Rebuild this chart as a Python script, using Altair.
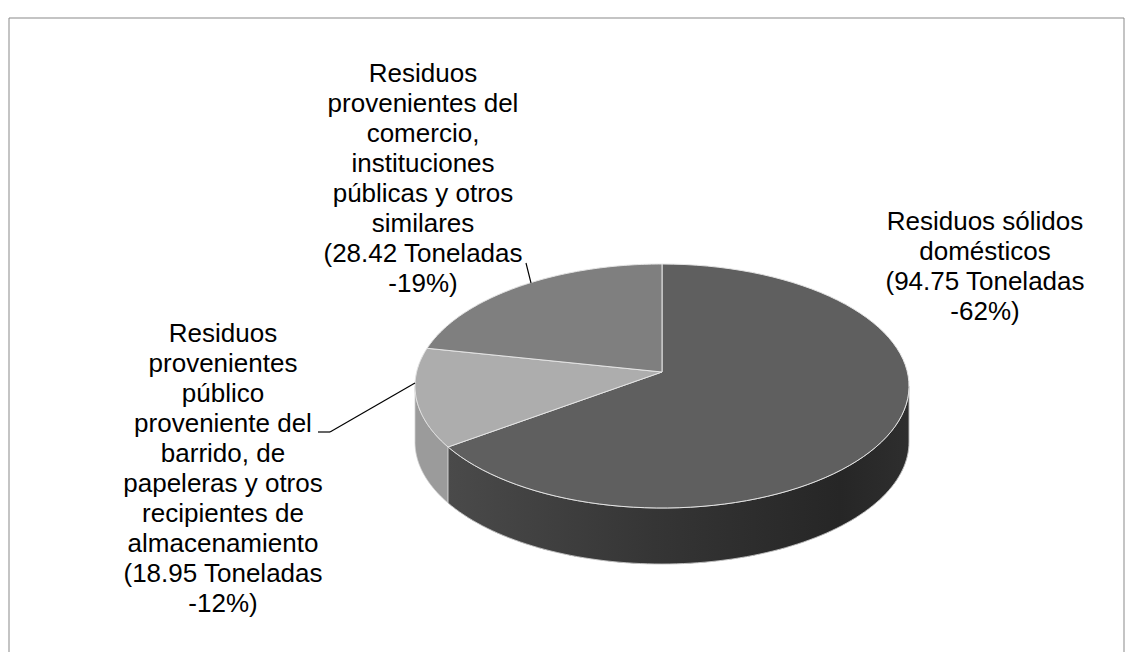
import altair as alt
import pandas as pd

# ---------------- data ----------------
categorias = [
    "Residuos sólidos domésticos",
    "Residuos provenientes público proveniente del barrido, de papeleras y otros recipientes de almacenamiento",
    "Residuos provenientes del comercio, instituciones públicas y otros similares",
]
toneladas = [94.75, 18.95, 28.42]
porcentajes = [62, 12, 19]
lineas_nombre = [
    ["Residuos sólidos", "domésticos"],
    ["Residuos", "provenientes", "público", "proveniente del", "barrido, de",
     "papeleras y otros", "recipientes de", "almacenamiento"],
    ["Residuos", "provenientes del", "comercio,", "instituciones",
     "públicas y otros", "similares"],
]
colores_cara = ["#5f5f5f", "#adadad", "#7f7f7f"]
colores_lado = ["#363636", "#9b9b9b", "#6a6a6a"]

# ---------------- layout ----------------
W, H = 1118, 644
CX, CY, RX, RY = 654, 378, 247, 122   # ellipse of the pie top
APEX_DY = -14                          # perspective shift of the pie centre
DEPTH = 56                             # thickness of the pie
N = 90                                 # arc resolution
label_x = [977, 215, 415]
label_y = [214, 326, 66]               # centre of the first line of each label
FONT = "Liberation Sans"

df = pd.DataFrame({"categoria": categorias, "toneladas": toneladas,
                   "orden": list(range(len(categorias)))})

base = (
    alt.Chart(df)
    .transform_joinaggregate(total="sum(toneladas)")
    .transform_window(acum="sum(toneladas)", sort=[alt.SortField("orden")],
                      frame=[None, 0])
    .transform_calculate(a0="2*PI*(datum.acum - datum.toneladas)/datum.total")
    .transform_calculate(a1="2*PI*datum.acum/datum.total")
)

pos = dict(
    x=alt.X("px:Q", scale=None, axis=None),
    y=alt.Y("py:Q", scale=None, axis=None),
    detail=alt.Detail("categoria:N"),
    order=alt.Order("idx:Q"),
)

# top faces (elliptical wedges)
top = (
    base.transform_calculate(idx=f"sequence(-1, {N + 1})")
    .transform_flatten(["idx"])
    .transform_calculate(t=f"datum.a0 + (datum.a1 - datum.a0) * max(datum.idx, 0) / {N}")
    .transform_calculate(px=f"datum.idx < 0 ? {CX} : {CX} + {RX} * sin(datum.t)")
    .transform_calculate(py=f"datum.idx < 0 ? {CY + APEX_DY} : {CY} - {RY} * cos(datum.t)")
    .mark_line(interpolate="linear-closed", stroke="#e4e4e4", strokeWidth=1,
               strokeJoin="round")
    .encode(fill=alt.Fill("categoria:N",
                          scale=alt.Scale(domain=categorias, range=colores_cara),
                          legend=None), **pos)
)

# visible front side of the pie
side_base = (
    base.transform_calculate(s0="max(datum.a0, PI/2)")
    .transform_calculate(s1="min(datum.a1, 3*PI/2)")
    .transform_filter("datum.s1 > datum.s0")
    .transform_calculate(idx=f"sequence(0, {2 * N + 2})")
    .transform_flatten(["idx"])
    .transform_calculate(j=f"datum.idx <= {N} ? datum.idx : {2 * N + 1} - datum.idx")
    .transform_calculate(t=f"datum.s0 + (datum.s1 - datum.s0) * datum.j / {N}")
    .transform_calculate(px=f"{CX} + {RX} * sin(datum.t)")
    .transform_calculate(py=f"{CY} - {RY} * cos(datum.t) + (datum.idx > {N} ? {DEPTH} : 0)")
)
side = side_base.mark_line(interpolate="linear-closed", stroke="#d0d0d0",
                           strokeWidth=0.8).encode(
    fill=alt.Fill("categoria:N",
                  scale=alt.Scale(domain=categorias, range=colores_lado),
                  legend=None), **pos)

side_grad = side_base.transform_filter("datum.orden == 0").mark_line(
    interpolate="linear-closed", stroke="#d0d0d0", strokeWidth=0.8,
    fill=alt.LinearGradient(
        gradient="linear", x1=0, x2=1, y1=0, y2=0,
        stops=[alt.GradientStop(color="#4a4a4a", offset=0),
               alt.GradientStop(color="#353535", offset=0.45),
               alt.GradientStop(color="#262626", offset=0.85),
               alt.GradientStop(color="#2e2e2e", offset=1)])
).encode(**pos)

# frame
one = alt.Data(values=[{}])
frame = alt.layer(
    alt.Chart(one).mark_rule(color="#898989", strokeWidth=1).encode(
        x=alt.value(1), y=alt.value(10), y2=alt.value(H)),
    alt.Chart(one).mark_rule(color="#898989", strokeWidth=1).encode(
        x=alt.value(1), x2=alt.value(1116), y=alt.value(10)),
    alt.Chart(one).mark_rule(color="#898989", strokeWidth=1).encode(
        x=alt.value(1116), y=alt.value(10), y2=alt.value(H)),
)

# leader lines
leaders = alt.layer(
    alt.Chart(one).mark_rule(color="black", strokeWidth=1.2).encode(
        x=alt.value(518), y=alt.value(255), x2=alt.value(523), y2=alt.value(275)),
    alt.Chart(one).mark_rule(color="black", strokeWidth=1.2).encode(
        x=alt.value(310), y=alt.value(424), x2=alt.value(322), y2=alt.value(424)),
    alt.Chart(one).mark_rule(color="black", strokeWidth=1.2).encode(
        x=alt.value(322), y=alt.value(424), x2=alt.value(407), y2=alt.value(375)),
)

# labels
textos = [
    "\n".join(lns + [f"({v:.2f} Toneladas", f"-{p}%)"])
    for lns, v, p in zip(lineas_nombre, toneladas, porcentajes)
]
df_lab = pd.DataFrame({"texto": textos, "lx": label_x, "ly": label_y})
labels = alt.Chart(df_lab).mark_text(
    align="center", baseline="middle", lineBreak="\n", font=FONT,
    fontSize=26, lineHeight=30, color="black"
).encode(
    x=alt.X("lx:Q", scale=None, axis=None),
    y=alt.Y("ly:Q", scale=None, axis=None),
    text="texto:N",
)

chart = (
    alt.layer(frame, side, side_grad, top, leaders, labels)
    .resolve_scale(fill="independent")
    .properties(width=W, height=H, padding=0, autosize="none")
    .configure_view(stroke="transparent")
)

chart.save("out.html", embed_options={"renderer": "svg", "actions": False})
